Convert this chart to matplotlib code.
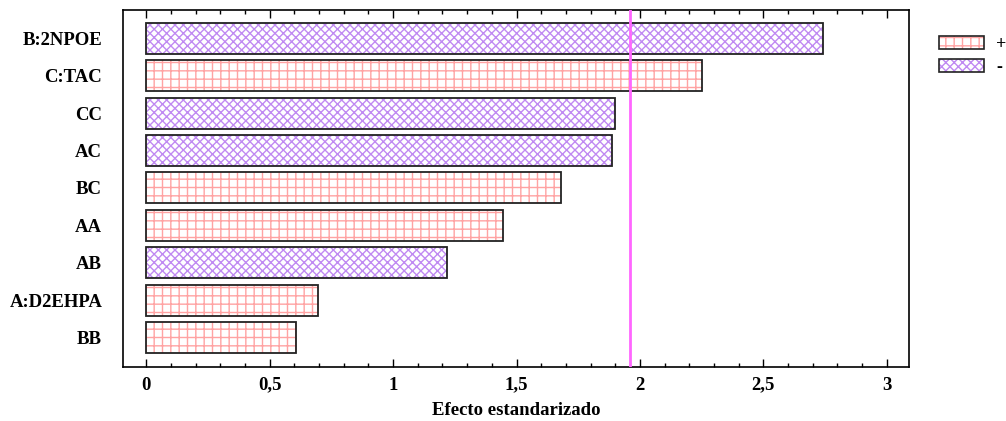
import matplotlib
matplotlib.use("Agg")
import matplotlib.pyplot as plt
from matplotlib.patches import Patch
from matplotlib.legend_handler import HandlerTuple
from matplotlib.ticker import MultipleLocator

# effects from top to bottom
terms = ['B:2NPOE', 'C:TAC', 'CC', 'AC', 'BC', 'AA', 'AB', 'A:D2EHPA', 'BB']
effects = [2.74, 2.25, 1.90, 1.885, 1.68, 1.447, 1.22, 0.695, 0.606]
signs = ['-', '+', '-', '-', '+', '+', '-', '+', '+']
critical = 1.96
xtick_vals = [0, 0.5, 1, 1.5, 2, 2.5, 3]
xtick_labels = ['0', '0,5', '1', '1,5', '2', '2,5', '3']

plus_col = '#ffa3a3'
minus_col = '#c08af2'
plt.rcParams['font.family'] = ['Liberation Serif', 'DejaVu Serif']
plt.rcParams['font.weight'] = 'bold'
plt.rcParams['hatch.linewidth'] = 1.0

fig = plt.figure(figsize=(10.06, 4.21), dpi=100)
ax = fig.add_axes([0.1223, 0.1283, 0.7813, 0.8479])

ypos = list(range(len(terms)))[::-1]
for y, v, s in zip(ypos, effects, signs):
    col = plus_col if s == '+' else minus_col
    hatch = '++' if s == '+' else 'xxxx'
    ax.barh(y, v, height=0.83, color='white', edgecolor=col, hatch=hatch, linewidth=0, zorder=2)
    ax.barh(y, v, height=0.83, fill=False, edgecolor='#222222', linewidth=1.3, zorder=3)

ax.axvline(critical, color='#ff66ff', linewidth=2, zorder=4)

ax.set_xlim(-0.094, 3.09)
ax.set_ylim(-0.79, 8.76)
ax.set_yticks(ypos)
ax.set_yticklabels(terms, fontsize=13.5, fontweight='bold')
ax.set_xticks(xtick_vals)
ax.set_xticklabels(xtick_labels, fontsize=13.5, fontweight='bold')
ax.xaxis.set_minor_locator(MultipleLocator(0.1))
ax.tick_params(axis='x', which='major', direction='in', length=6, top=True, width=1)
ax.tick_params(axis='x', which='minor', direction='in', length=3, top=True, width=1)
ax.tick_params(axis='y', length=0, pad=15)
ax.tick_params(axis='x', pad=7)
for sp in ax.spines.values():
    sp.set_linewidth(1.2)
ax.set_xlabel('Efecto estandarizado', fontsize=13.5, fontweight='bold', labelpad=6)

h_plus = (Patch(facecolor='white', edgecolor=plus_col, hatch='++', linewidth=0),
          Patch(fill=False, edgecolor='#222222', linewidth=1.2))
h_minus = (Patch(facecolor='white', edgecolor=minus_col, hatch='xxxx', linewidth=0),
           Patch(fill=False, edgecolor='#222222', linewidth=1.2))
fig.legend([h_plus, h_minus], ['+', '-'], handler_map={tuple: HandlerTuple(ndivide=1, pad=0)},
           loc='upper left', bbox_to_anchor=(0.933, 0.915), frameon=False,
           borderpad=0, borderaxespad=0,
           handlelength=2.5, handleheight=0.72, labelspacing=0.35, handletextpad=0.7,
           prop={'size': 13, 'weight': 'bold'})

fig.savefig('out.png', dpi=100)
